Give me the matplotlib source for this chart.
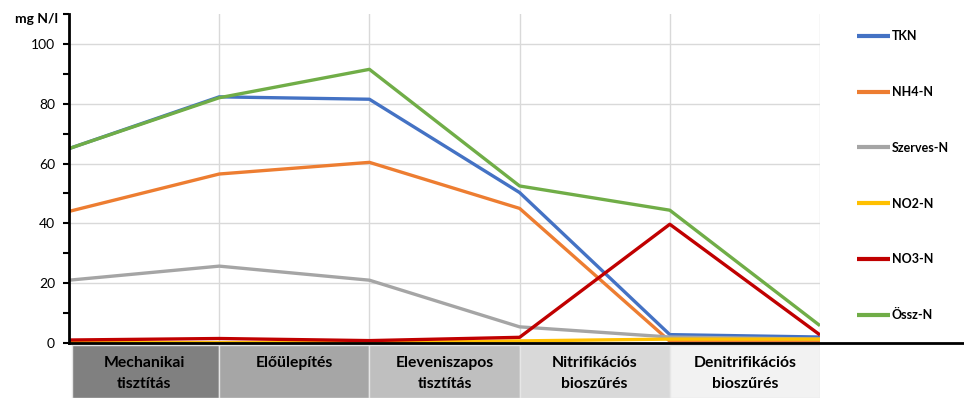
import matplotlib.pyplot as plt
from matplotlib.patches import Rectangle

plt.rcParams['font.family'] = ['Lato', 'DejaVu Sans']

# tisztítási lépések (táblázat a diagram alatt)
steps = ["Mechanikai\ntisztítás", "Előülepítés", "Eleveniszapos\ntisztítás",
         "Nitrifikációs\nbioszűrés", "Denitrifikációs\nbioszűrés"]
step_colors = ["#808080", "#a6a6a6", "#bfbfbf", "#d9d9d9", "#f2f2f2"]

# mérési pontok: lépések határain
x_pos = [0, 1, 2, 3, 4, 5]
tkn = [65.0, 82.3, 81.5, 50.3, 2.8, 2.0]
nh4 = [44.0, 56.5, 60.4, 45.0, 0.6, 0.5]
szerves = [21.0, 25.7, 21.0, 5.4, 2.0, 1.3]
no2 = [0.1, 0.1, 0.1, 0.7, 1.3, 1.3]
no3 = [1.0, 1.5, 0.8, 1.9, 39.7, 2.7]
ossz = [65.0, 82.0, 91.5, 52.5, 44.4, 5.8]

series = [("TKN", tkn, "#4472C4"), ("NH4-N", nh4, "#ED7D31"),
          ("Szerves-N", szerves, "#A5A5A5"), ("NO2-N", no2, "#FFC000"),
          ("NO3-N", no3, "#C00000"), ("Össz-N", ossz, "#70AD47")]

W, H = 964, 398
fig = plt.figure(figsize=(W / 100, H / 100), dpi=100)
ax = fig.add_axes([69 / W, 55 / H, (820 - 69) / W, (343 - 14) / H])

for name, vals, col in series:
    ax.plot(x_pos, vals, color=col, lw=2.4, label=name, solid_capstyle='butt')

ax.set_xlim(0, 5)
ax.set_ylim(0, 110)
ax.set_yticks([0, 20, 40, 60, 80, 100])
ax.set_yticks([10, 30, 50, 70, 90, 110], minor=True)
ax.set_xticks([1, 2, 3, 4, 5])
ax.tick_params(axis='x', length=0, labelbottom=False)
ax.tick_params(axis='y', which='both', direction='out', length=4, width=1.5,
               labelsize=10, colors='black', pad=6)
ax.grid(True, color='#d9d9d9', lw=1)
ax.set_axisbelow(True)
for s in ['top', 'right', 'bottom']:
    ax.spines[s].set_visible(False)
ax.spines['left'].set_linewidth(2)

# x tengely vonala a jobb szélig
ax.axhline(0, xmin=0, xmax=(W - 69) / (820 - 69), color='black', lw=2, clip_on=False, zorder=5)

fig.text(15 / W, 1 - 19 / H, "mg N/l", fontsize=10, fontweight='bold', va='center', ha='left')

# lépések táblázata
tab = fig.add_axes([69 / W, 0, (820 - 69) / W, 53 / H])
tab.set_xlim(0, 5)
tab.set_ylim(0, 1)
tab.axis('off')
for i, (lab, c) in enumerate(zip(steps, step_colors)):
    x0 = i + (0.02 if i == 0 else 0)
    tab.add_patch(Rectangle((x0, 0), i + 1 - x0, 1, facecolor=c, edgecolor='#e6e6e6', lw=1))
    tab.text(i + 0.5, 0.80, lab, ha='center', va='top', fontsize=11.3, fontweight='bold',
             linespacing=1.65)

leg = ax.legend(loc='upper left', bbox_to_anchor=(846 / W, 1 - 19 / H),
                bbox_transform=fig.transFigure, frameon=False,
                prop={'size': 9, 'weight': 'bold'}, labelspacing=3.5,
                handlelength=2.6, handletextpad=0.15)
for h in leg.get_lines():
    h.set_linewidth(3)

fig.savefig("out.png", dpi=100)
